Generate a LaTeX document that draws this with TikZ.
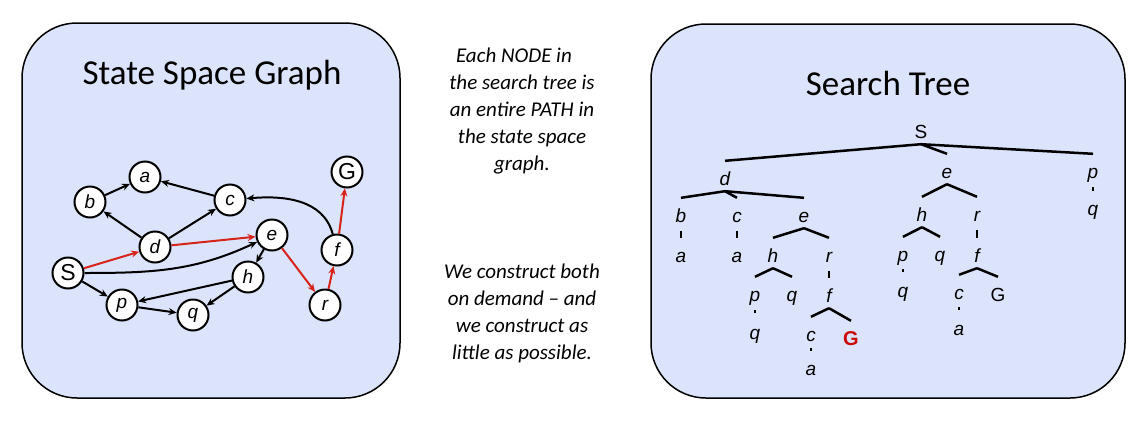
\documentclass[tikz,border=0pt]{standalone}
\usepackage{fontspec}
\setmainfont{Carlito}
\newfontfamily\labfont{Liberation Sans}
\usetikzlibrary{positioning, calc, arrows.meta}
\definecolor{paleblue}{RGB}{219,228,251}
\definecolor{pathred}{RGB}{215,35,25}
\definecolor{goalred}{RGB}{205,10,10}

\begin{document}
\begin{tikzpicture}[x=1pt, y=-1pt,
	state/.style={circle, draw, line width=2pt, fill=white, minimum size=31pt, inner sep=0pt, font=\labfont\itshape\fontsize{19}{19}\selectfont},
	bigstate/.style={state, font=\labfont\fontsize{23}{23}\selectfont},
	arc/.style={-{Stealth[length=8pt,width=7pt]}, line width=2pt},
	redarc/.style={arc, pathred},
	panel/.style={draw, line width=1.5pt, fill=paleblue, rounded corners=55pt},
	title/.style={font=\fontsize{35}{35}\selectfont},
	note/.style={align=center, font=\itshape\fontsize{21}{27}\selectfont},
	tnode/.style={anchor=base, inner sep=0pt, text height=24pt, text depth=6pt, font=\labfont\itshape\fontsize{19}{19}\selectfont},
	branch/.style={line width=2.5pt},
	stub/.style={line width=2.5pt, shorten <=3pt},
	dotmark/.style={fill, inner sep=0pt, minimum width=2.5pt, minimum height=3pt}]
						\useasboundingbox (0,0) rectangle (1138,426);
						
						\draw[panel] (22,23) rectangle (400,398);
						\draw[panel] (651,24) rectangle (1125,398);
						\node[title] (graphtitle) at (212,75) {State Space Graph};
						\node[title] (treetitle) at (888,83) {Search Tree};
						
						\node[note] (pathnote) at (522,111) {Each NODE in\hspace*{16pt}\\the search tree is\\an entire PATH in\\the state space\\graph.};
						\node[note] (demandnote) at (522,313) {We construct both\\on demand -- and\\we construct as\\little as possible.};
						
						\node[state] (a) at (145,177) {a};
						\node[state] (b) at (90,202) {b};
						\node[state] (c) at (230,200) {c};
						\node[state] (d) at (155,247) {d};
						\node[state] (e) at (272,235) {e};
						\node[bigstate] (S) at (68,273) {S};
						\node[state] (h) at (248,277) {h};
						\node[state] (p) at (122,305) {p};
						\node[state] (q) at (193,315) {q};
						\node[state] (r) at (325,305) {r};
						\node[state] (f) at (337,250) {f};
						\node[bigstate] (G) at (347,172) {G};
						
						\draw[arc] (b) -- (a);
						\draw[arc] (c) -- (a);
						\draw[arc] (d) -- (b);
						\draw[arc] (d) -- (c);
						\draw[arc] (f) to[out=105, in=5] (c);
						\draw[arc] (S) to[out=0, in=205] (e);
						\draw[arc] (e) -- (h);
						\draw[arc] (h) -- (p);
						\draw[arc] (h) -- (q);
						\draw[arc] (S) -- (p);
						\draw[arc] (p) -- (q);
						\draw[redarc] (S) -- (d);
						\draw[redarc] (d) -- (e);
						\draw[redarc] (e) -- (r);
						\draw[redarc] (r) -- (f);
						\draw[redarc] (f) -- (G);
						
						\node[tnode, font=\labfont\fontsize{19}{19}\selectfont] (s) at (921,138) {S};
						\node[tnode] (sd) at (725,185) {d};
						\node[tnode] (se) at (947,178) {e};
						\node[tnode] (sp) at (1093,178) {p};
						\node[tnode] (sdb) at (681,222) {b};
						\node[tnode] (sdc) at (737,222) {c};
						\node[tnode] (sde) at (804,222) {e};
						\node[tnode] (sdba) at (681,262) {a};
						\node[tnode] (sdca) at (737,262) {a};
						\node[tnode] (sdeh) at (773,262) {h};
						\node[tnode] (sder) at (829,262) {r};
						\node[tnode] (sdehp) at (755,301) {p};
						\node[tnode] (sdehq) at (792,301) {q};
						\node[tnode] (sderf) at (829,302) {f};
						\node[tnode] (sdehpq) at (755,339) {q};
						\node[tnode] (sderfc) at (811,341) {c};
						\node[tnode, text=goalred, font=\labfont\bfseries\fontsize{20}{20}\selectfont] (sderfG) at (851,345) {G};
						\node[tnode] (sderfca) at (811,375) {a};
						\node[tnode] (seh) at (922,221) {h};
						\node[tnode] (ser) at (977,221) {r};
						\node[tnode] (sehp) at (903,261) {p};
						\node[tnode] (sehq) at (940,261) {q};
						\node[tnode] (serf) at (977,262) {f};
						\node[tnode] (sehpq) at (903,297) {q};
						\node[tnode] (serfc) at (959,299) {c};
						\node[tnode, font=\labfont\fontsize{19}{19}\selectfont] (serfG) at (998,301) {G};
						\node[tnode] (serfca) at (959,335) {a};
						\node[tnode] (spq) at (1093,215) {q};
						
						\draw[branch] (s.south) -- (sd.north);
						\draw[branch] (s.south) -- (se.north);
						\draw[branch] (s.south) -- (sp.north);
						\draw[branch] (sd.south) -- (sdb.north);
						\draw[branch] (sd.south) -- (sdc.north);
						\draw[branch] (sd.south) -- (sde.north);
						\draw[branch] (sde.south) -- (sdeh.north);
						\draw[branch] (sde.south) -- (sder.north);
						\draw[branch] (sdeh.south) -- (sdehp.north);
						\draw[branch] (sdeh.south) -- (sdehq.north);
						\draw[branch] (sderf.south) -- (sderfc.north);
						\draw[branch] (sderf.south) -- (sderfG.north);
						\draw[branch] (se.south) -- (seh.north);
						\draw[branch] (se.south) -- (ser.north);
						\draw[branch] (seh.south) -- (sehp.north);
						\draw[branch] (seh.south) -- (sehq.north);
						\draw[branch] (serf.south) -- (serfc.north);
						\draw[branch] (serf.south) -- (serfG.north);
						\draw[stub] (sdb.south) -- (sdba.north);
						\draw[stub] (sdc.south) -- (sdca.north);
						\draw[stub] (sder.south) -- (sderf.north);
						\draw[stub] (ser.south) -- (serf.north);
						\draw[stub] (sp.south) -- (spq.north);
						\path (sdehp.south) -- node[dotmark] {} (sdehpq.north);
						\path (sderfc.south) -- node[dotmark] {} (sderfca.north);
						\path (sehp.south) -- node[dotmark] {} (sehpq.north);
						\path (serfc.south) -- node[dotmark] {} (serfca.north);
						\end{tikzpicture}
\end{document}
